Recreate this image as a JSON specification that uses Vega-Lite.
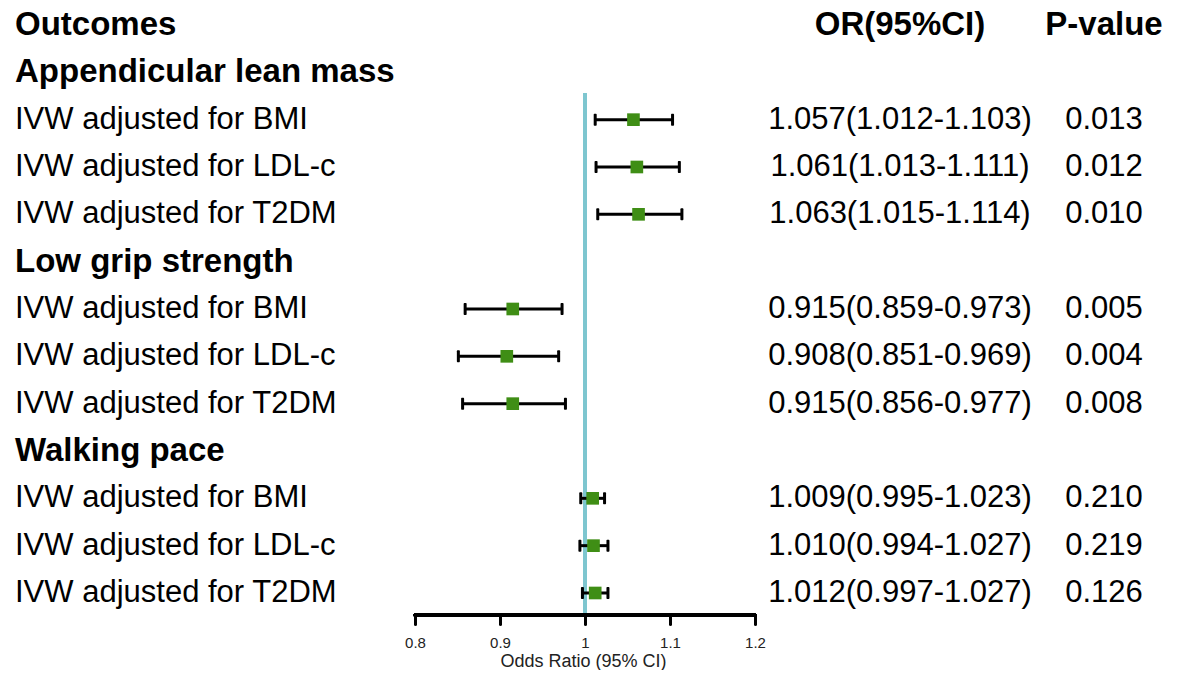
{
  "$schema": "https://vega.github.io/schema/vega-lite/v6.json",
  "width": 1183,
  "height": 615,
  "padding": 0,
  "background": "white",
  "config": {"view": {"stroke": null}, "font": "Liberation Sans", "axis": {"labelFontSize": 15, "titleFontSize": 18}},
  "data": {"values": [
    {"idx": 0, "label": "Outcomes", "kind": "head", "ortext": "OR(95%CI)", "ptext": "P-value"},
    {"idx": 1, "label": "Appendicular lean mass", "kind": "group"},
    {"idx": 2, "label": "IVW adjusted for BMI", "kind": "row", "or": 1.057, "lo": 1.012, "hi": 1.103, "ortext": "1.057(1.012-1.103)", "ptext": "0.013"},
    {"idx": 3, "label": "IVW adjusted for LDL-c", "kind": "row", "or": 1.061, "lo": 1.013, "hi": 1.111, "ortext": "1.061(1.013-1.111)", "ptext": "0.012"},
    {"idx": 4, "label": "IVW adjusted for T2DM", "kind": "row", "or": 1.063, "lo": 1.015, "hi": 1.114, "ortext": "1.063(1.015-1.114)", "ptext": "0.010"},
    {"idx": 5, "label": "Low grip strength", "kind": "group"},
    {"idx": 6, "label": "IVW adjusted for BMI", "kind": "row", "or": 0.915, "lo": 0.859, "hi": 0.973, "ortext": "0.915(0.859-0.973)", "ptext": "0.005"},
    {"idx": 7, "label": "IVW adjusted for LDL-c", "kind": "row", "or": 0.908, "lo": 0.851, "hi": 0.969, "ortext": "0.908(0.851-0.969)", "ptext": "0.004"},
    {"idx": 8, "label": "IVW adjusted for T2DM", "kind": "row", "or": 0.915, "lo": 0.856, "hi": 0.977, "ortext": "0.915(0.856-0.977)", "ptext": "0.008"},
    {"idx": 9, "label": "Walking pace", "kind": "group"},
    {"idx": 10, "label": "IVW adjusted for BMI", "kind": "row", "or": 1.009, "lo": 0.995, "hi": 1.023, "ortext": "1.009(0.995-1.023)", "ptext": "0.210"},
    {"idx": 11, "label": "IVW adjusted for LDL-c", "kind": "row", "or": 1.010, "lo": 0.994, "hi": 1.027, "ortext": "1.010(0.994-1.027)", "ptext": "0.219"},
    {"idx": 12, "label": "IVW adjusted for T2DM", "kind": "row", "or": 1.012, "lo": 0.997, "hi": 1.027, "ortext": "1.012(0.997-1.027)", "ptext": "0.126"}
  ]},
  "encoding": {
    "y": {"field": "idx", "type": "quantitative", "scale": {"domain": [-0.528, 12.465], "reverse": true, "nice": false, "zero": false}, "axis": null}
  },
  "layer": [
    {
      "mark": {"type": "rule", "color": "#7ec6cf", "strokeWidth": 3},
      "encoding": {
        "x": {"datum": 1, "type": "quantitative", "scale": {"domain": [0.31176, 1.70353], "nice": false, "zero": false},
              "axis": {"values": [0.8, 0.9, 1, 1.1, 1.2], "domain": false, "grid": false, "tickColor": "black", "tickWidth": 3, "tickSize": 9, "tickCap": "round",
                       "labelFontSize": 15, "labelColor": "#222", "labelPadding": 11, "labelExpr": "datum.value == 1 ? '1' : format(datum.value, '.1f')",
                       "title": "Odds Ratio (95% CI)", "titleFontSize": 18, "titleFontWeight": "normal", "titleColor": "#222", "titlePadding": 2, "titleX": 583}},
        "y": {"datum": 1.44},
        "y2": {"datum": 12.465}
      }
    },
    {
      "mark": {"type": "rule", "color": "black", "strokeWidth": 3, "strokeCap": "round"},
      "encoding": {
        "x": {"datum": 0.8},
        "x2": {"datum": 1.2},
        "y": {"datum": 12.465}
      }
    },
    {
      "transform": [{"filter": "datum.kind == 'row'"}],
      "mark": {"type": "rule", "color": "black", "strokeWidth": 3},
      "encoding": {
        "x": {"field": "lo", "type": "quantitative"},
        "x2": {"field": "hi"}
      }
    },
    {
      "transform": [{"filter": "datum.kind == 'row'"}],
      "mark": {"type": "tick", "orient": "vertical", "color": "black", "thickness": 3, "size": 12, "cornerRadius": 1, "opacity": 1},
      "encoding": {"x": {"field": "lo", "type": "quantitative"}}
    },
    {
      "transform": [{"filter": "datum.kind == 'row'"}],
      "mark": {"type": "tick", "orient": "vertical", "color": "black", "thickness": 3, "size": 12, "cornerRadius": 1, "opacity": 1},
      "encoding": {"x": {"field": "hi", "type": "quantitative"}}
    },
    {
      "transform": [{"filter": "datum.kind == 'row'"}],
      "mark": {"type": "square", "filled": true, "color": "#3f8e15", "opacity": 1, "size": 160},
      "encoding": {"x": {"field": "or", "type": "quantitative"}}
    },
    {
      "transform": [{"filter": "datum.kind != 'row'"}],
      "mark": {"type": "text", "align": "left", "baseline": "middle", "color": "black", "fontSize": 33, "fontWeight": "bold"},
      "encoding": {
        "x": {"datum": 0.32941},
        "text": {"field": "label"}
      }
    },
    {
      "transform": [{"filter": "datum.kind == 'row'"}],
      "mark": {"type": "text", "align": "left", "baseline": "middle", "color": "black", "fontSize": 31},
      "encoding": {
        "x": {"datum": 0.32941},
        "text": {"field": "label"}
      }
    },
    {
      "transform": [{"filter": "datum.kind == 'head'"}],
      "mark": {"type": "text", "align": "center", "baseline": "middle", "color": "black", "fontSize": 33, "fontWeight": "bold"},
      "encoding": {
        "x": {"datum": 1.37059},
        "text": {"field": "ortext"}
      }
    },
    {
      "transform": [{"filter": "datum.kind == 'head'"}],
      "mark": {"type": "text", "align": "center", "baseline": "middle", "color": "black", "fontSize": 33, "fontWeight": "bold"},
      "encoding": {
        "x": {"datum": 1.61059},
        "text": {"field": "ptext"}
      }
    },
    {
      "transform": [{"filter": "datum.kind == 'row'"}],
      "mark": {"type": "text", "align": "center", "baseline": "middle", "color": "black", "fontSize": 31},
      "encoding": {
        "x": {"datum": 1.37059},
        "text": {"field": "ortext"}
      }
    },
    {
      "transform": [{"filter": "datum.kind == 'row'"}],
      "mark": {"type": "text", "align": "center", "baseline": "middle", "color": "black", "fontSize": 31},
      "encoding": {
        "x": {"datum": 1.61059},
        "text": {"field": "ptext"}
      }
    }
  ]
}
